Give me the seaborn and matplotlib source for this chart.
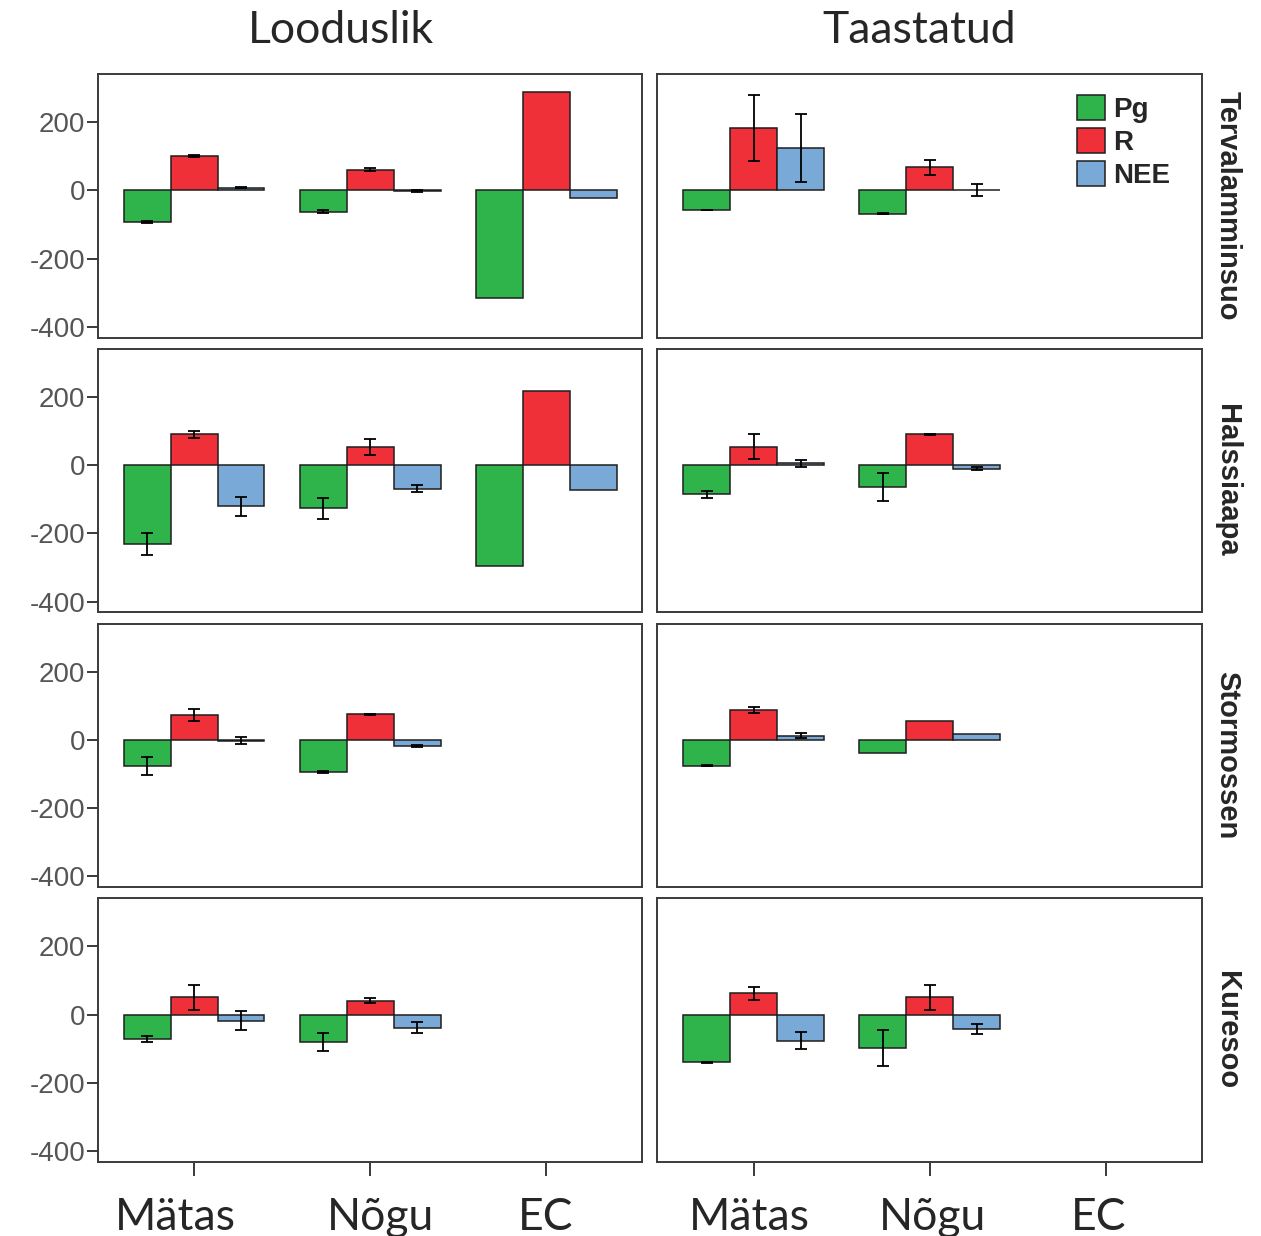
import numpy as np
import pandas as pd
import matplotlib
matplotlib.use("Agg")
import matplotlib.pyplot as plt
from matplotlib.patches import Patch
from matplotlib.transforms import ScaledTranslation
import seaborn as sns

nan = np.nan

kohad = ["Mätas", "Nõgu", "EC"]
vood = ["Pg", "R", "NEE"]
alad = ["Tervalamminsuo", "Halssiaapa", "Stormossen", "Kuresoo"]
seisundid = ["Looduslik", "Taastatud"]
varvid = ["#2EB44A", "#EF3038", "#79A9D7"]

# keskmised [Pg, R, NEE] iga koha kohta (Mätas, Nõgu, EC)
terv_lood = [[-93, 100, 8], [-63, 61, -2], [-317, 288, -21]]
terv_lood_err = [[3, 3, 2], [4, 5, 3], [nan, nan, nan]]
terv_taas = [[-58, 183, 125], [-68, 68, 1], [nan, nan, nan]]
terv_taas_err = [[1, 98, 100], [2, 22, 19], [nan, nan, nan]]

hals_lood = [[-231, 90, -121], [-126, 54, -69], [-295, 217, -74]]
hals_lood_err = [[32, 11, 28], [31, 23, 10], [nan, nan, nan]]
hals_taas = [[-86, 54, 5], [-64, 90, -10], [nan, nan, nan]]
hals_taas_err = [[11, 37, 11], [41, 2, 3], [nan, nan, nan]]

storm_lood = [[-76, 72, -2], [-93, 75, -18], [nan, nan, nan]]
storm_lood_err = [[26, 17, 10], [3, 1, 3], [nan, nan, nan]]
storm_taas = [[-76, 88, 12], [-38, 54, 16], [nan, nan, nan]]
storm_taas_err = [[1, 8, 8], [nan, nan, nan], [nan, nan, nan]]

kure_lood = [[-71, 51, -18], [-81, 41, -38], [nan, nan, nan]]
kure_lood_err = [[9, 37, 28], [26, 7, 17], [nan, nan, nan]]
kure_taas = [[-140, 63, -76], [-97, 51, -43], [nan, nan, nan]]
kure_taas_err = [[2, 19, 24], [53, 37, 15], [nan, nan, nan]]

paneelid = [
    [(terv_lood, terv_lood_err), (terv_taas, terv_taas_err)],
    [(hals_lood, hals_lood_err), (hals_taas, hals_taas_err)],
    [(storm_lood, storm_lood_err), (storm_taas, storm_taas_err)],
    [(kure_lood, kure_lood_err), (kure_taas, kure_taas_err)],
]

# pealkirjade ja x-siltide nihked (pildil käsitsi paigutatud tekstikastid)
pealkirja_x = [0.447, 0.481]
sildi_nihe_px = [[-19, 10, -1], [-4, 3, -7]]

sns.set_style("white")
plt.rcParams["font.family"] = ["Liberation Sans", "DejaVu Sans"]
plt.rcParams["axes.unicode_minus"] = False

fig, axes = plt.subplots(4, 2, figsize=(12.61, 12.36), dpi=100, sharex=True, sharey=True)
fig.subplots_adjust(left=0.0777, right=0.9532, top=0.9401, bottom=0.0599,
                    wspace=0.0276, hspace=0.042)

for r, ala in enumerate(alad):
    for c, seis in enumerate(seisundid):
        ax = axes[r, c]
        keskm, vead = paneelid[r][c]
        df = pd.DataFrame(
            [(k, v, keskm[i][j]) for i, k in enumerate(kohad) for j, v in enumerate(vood)],
            columns=["koht", "voog", "vaartus"]).dropna()

        sns.barplot(data=df, x="koht", y="vaartus", hue="voog", order=kohad,
                    hue_order=vood, palette=varvid, errorbar=None, saturation=1,
                    width=0.8, edgecolor="#1e1e1e", linewidth=1.1, legend=False, ax=ax)

        # veapiirid
        konteinerid = list(ax.containers)
        for j, cont in enumerate(konteinerid):
            for bar in cont:
                xc = bar.get_x() + bar.get_width() / 2
                i = int(round(xc))
                e = vead[i][j]
                if not np.isnan(e):
                    ax.errorbar(xc, keskm[i][j], yerr=e, color="black", capsize=4.5,
                                elinewidth=1.3, capthick=1.3, zorder=5)

        ax.set_xlim(-0.545, 2.545)
        ax.set_ylim(-432, 341)
        ax.set_yticks([-400, -200, 0, 200])
        ax.set_xlabel("")
        ax.set_ylabel("")
        for sp in ax.spines.values():
            sp.set_color("#3a3a3a")
            sp.set_linewidth(1.4)

        if c == 0:
            ax.tick_params(axis="y", left=True, length=8, width=1.4, color="#3a3a3a",
                           labelsize=20, labelcolor="#555555", pad=1)
        else:
            ax.tick_params(axis="y", left=False, labelleft=False)
            ax.text(1.021, 0.5, ala, transform=ax.transAxes, rotation=270,
                    ha="left", va="center", fontsize=21, fontweight="bold")

        if r == 3:
            ax.tick_params(axis="x", bottom=True, length=10, width=1.4, color="#3a3a3a",
                           pad=14)
            for k, lab in enumerate(ax.get_xticklabels()):
                lab.set_fontfamily(["Lato", "DejaVu Sans"])
                lab.set_fontsize(32)
                lab.set_transform(lab.get_transform() +
                                  ScaledTranslation(sildi_nihe_px[c][k] / 100, -0.02,
                                                    fig.dpi_scale_trans))
        else:
            ax.tick_params(axis="x", bottom=False, labelbottom=False)

        if r == 0:
            ax.text(pealkirja_x[c], 1.0, seis, transform=ax.transAxes, ha="center",
                    va="baseline", fontsize=32, family=["Lato", "DejaVu Sans"],
                    transform_rotates_text=False)
            ax.texts[-1].set_transform(ax.transAxes +
                                       ScaledTranslation(0, 0.31, fig.dpi_scale_trans))

# legend paremal ülal
kasitsejad = [Patch(facecolor=v, edgecolor="#1e1e1e", linewidth=1.1) for v in varvid]
axes[0, 1].legend(kasitsejad, vood, loc="upper left", bbox_to_anchor=(0.77, 0.92),
                  frameon=False, borderpad=0, borderaxespad=0, handlelength=1.0,
                  handleheight=1.0, labelspacing=0.18, handletextpad=0.3,
                  prop={"size": 20, "weight": "bold"})

fig.savefig("out.png", dpi=100)
